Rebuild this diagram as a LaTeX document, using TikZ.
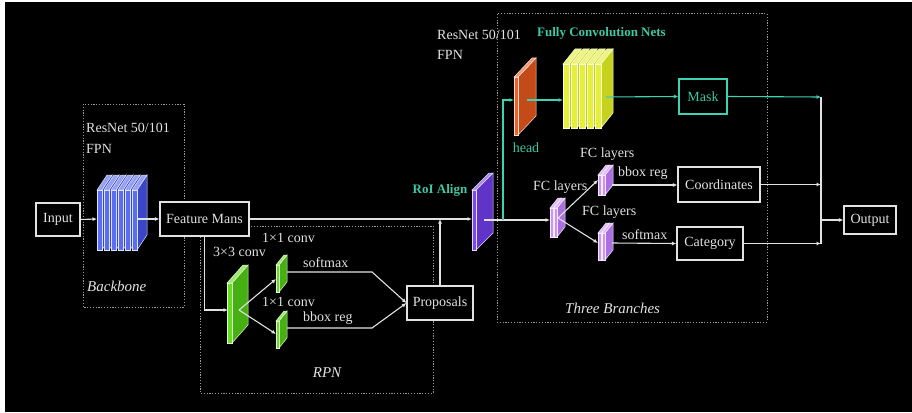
\documentclass[tikz,border=0pt]{standalone}
\usepackage{fontspec}
\setmainfont{Liberation Serif}
\usetikzlibrary{arrows.meta,calc}
\definecolor{lgray}{HTML}{E2E2E2}
\definecolor{dgray}{HTML}{9A9A9A}
\definecolor{tealc}{HTML}{3ED2B4}
\definecolor{tealt}{HTML}{3CC8A4}
\definecolor{blueF}{HTML}{5A6EF0}\definecolor{blueS}{HTML}{3A46C8}
\definecolor{yelF}{HTML}{E4F03C}\definecolor{yelS}{HTML}{C6D21E}
\definecolor{oraF}{HTML}{EA622A}\definecolor{oraS}{HTML}{C44A18}
\definecolor{grnF}{HTML}{66DD22}\definecolor{grnS}{HTML}{46B012}
\definecolor{purF}{HTML}{7A4AE8}\definecolor{purS}{HTML}{6034C8}
\definecolor{vioF}{HTML}{CC94F6}\definecolor{vioS}{HTML}{AC70E2}
% slab: x, ybottom, w, h, dx, dy, front colour, side colour
\newcommand{\myslab}[8]{%
  \filldraw[fill=#8, draw=white!80!#7, line width=0.5pt] (#1+#3,#2) -- ++(#5,-#6) -- ++(0,-#4) -- ++(-#5,#6) -- cycle;
  \filldraw[fill=#7!65!white, draw=white!80!#7, line width=0.5pt] (#1,#2-#4) -- ++(#3,0) -- ++(#5,-#6) -- ++(-#3,0) -- cycle;
  \filldraw[fill=#7, draw=white!80!#7, line width=0.5pt] (#1,#2) rectangle ++(#3,-#4);
}
\tikzset{
  dotbox/.style={draw=dgray, line width=1pt, dash pattern=on 1.2pt off 1.6pt},
  txt/.style={text=lgray, font=\fontsize{14}{16}\selectfont, inner sep=0pt},
  ital/.style={text=lgray, font=\fontsize{15}{17}\selectfont\itshape, inner sep=0pt},
  tealtxt/.style={text=tealt, font=\fontsize{13}{15}\selectfont\bfseries, inner sep=0pt},
  box/.style={draw=lgray, line width=1.1pt, fill=black, text=lgray, font=\fontsize{14}{16}\selectfont, inner sep=0pt},
  tealbox/.style={draw=tealc, line width=1.1pt, fill=black, text=tealt, font=\fontsize{14}{16}\selectfont, inner sep=0pt},
  line/.style={draw=lgray, line width=1.1pt},
  arr/.style={line, -{Latex[length=4.5pt,width=4pt]}},
  tarr/.style={draw=tealc, line width=1.1pt, -{Latex[length=4.5pt,width=4pt]}},
}
\begin{document}
\begin{tikzpicture}[x=1pt,y=-1pt]
\useasboundingbox (0,0) rectangle (912,412);
\fill[white] (0,0) rectangle (912,412);
\fill[black] (5,2) rectangle (912,412);
% dotted groups
\draw[dotbox] (83,104) rectangle (184,307);
\draw[dotbox] (200,226) rectangle (433,393);
\draw[dotbox] (497,14) rectangle (767,322);
% boxes
\node[box, minimum width=44, minimum height=33] (input) at (58,219.5) {Input};
\node[box, minimum width=89, minimum height=34] (fm) at (204.5,219) {Feature Mans};
\node[box, minimum width=66, minimum height=34] (prop) at (440,303) {Proposals};
\node[tealbox, minimum width=48, minimum height=35] (mask) at (703,96.5) {Mask};
\node[box, minimum width=82, minimum height=35] (coord) at (719,184.5) {Coordinates};
\node[box, minimum width=66, minimum height=33] (cat) at (710,243.5) {Category};
\node[box, minimum width=52, minimum height=28] (out) at (870,220) {Output};
% slab stacks
\foreach \i in {0,...,5} {\myslab{97+\i*7}{250}{5}{60}{10}{15}{blueF}{blueS}}
\foreach \i in {0,...,4} {\myslab{563+\i*8}{128}{6}{64}{12}{15}{yelF}{yelS}}
\myslab{514}{135}{4}{58}{18}{19}{oraF}{oraS}
\myslab{472}{250}{4}{60}{17}{17}{purF}{purS}
\myslab{227}{343}{5}{60}{16}{18}{grnF}{grnS}
\myslab{276}{292}{3}{27}{8}{10}{grnF}{grnS}
\myslab{276}{348}{3}{27}{8}{10}{grnF}{grnS}
\foreach \i in {0,1} {\myslab{550+\i*4}{237}{3}{29}{8}{10}{vioF}{vioS}}
\foreach \i in {0,1} {\myslab{598+\i*4}{195}{3}{20}{8}{10}{vioF}{vioS}}
\foreach \i in {0,1} {\myslab{598+\i*4}{260}{3}{27}{8}{10}{vioF}{vioS}}
% named connection points on the slabs
\coordinate (bluein) at (97,219);
\coordinate (blueout) at (138,219);
\coordinate (gin) at (228,310);
\coordinate (gv) at (239,310);
\coordinate (stin) at (276,279);
\coordinate (sbin) at (276,334);
\coordinate (stout) at (287,272);
\coordinate (sbout) at (287,328);
\coordinate (stbend) at (372,272);
\coordinate (sbbend) at (372,328);
\coordinate (roiin) at (472,219);
\coordinate (roiout) at (484,220);
\coordinate (tj) at (503,220);
\coordinate (headin) at (514,100);
\coordinate (headout) at (527,100);
\coordinate (yin) at (563,100);
\coordinate (yout) at (606,97);
\coordinate (fcin) at (550,220);
\coordinate (fcv) at (558,218);
\coordinate (fctin) at (598,180);
\coordinate (fcbin) at (598,243);
\coordinate (fctout) at (612,185);
\coordinate (fcbout) at (612,243);
\coordinate (mj) at (821,97);
% connectors
\draw[arr] (input.east) -- (bluein);
\draw[arr] (blueout) -- (fm.west);
\draw[arr] (fm.east) -- (roiin);
\draw[arr] (fm.south) |- (gin);
\draw[arr] (gv) -- (stin);
\draw[arr] (gv) -- (sbin);
\draw[arr] (stout) -- (stbend) -- (prop.west);
\draw[arr] (sbout) -- (sbbend) -- (prop.west);
\draw[arr] (prop.north) -- (prop.north |- fm.east);
\draw[arr] (roiout) -- (fcin);
\draw[tarr] (tj) |- (headin);
\draw[tarr] (headout) -- (yin);
\draw[tarr] (yout) -- (mask.west);
\draw[tarr] (mask.east) -- (mj);
\draw[arr] (fcv) -- (fctin);
\draw[arr] (fcv) -- (fcbin);
\draw[arr] (fctout) -- (fctout -| coord.west);
\draw[arr] (fcbout) -- (cat.west);
\draw[arr] (coord.east) -- (coord.east -| mj);
\draw[arr] (cat.east) -- (cat.east -| mj);
\draw[line] (mj) -- (mj |- cat.east);
\draw[arr] (mj |- out.west) -- (out.west);
% labels
\node[txt, anchor=west] (l1) at (86,128) {ResNet 50/101};
\node[txt, anchor=west] (l2) at (86,149) {FPN};
\node[ital, anchor=west] (l3) at (87,286) {Backbone};
\node[txt, anchor=west] (l4) at (213,252) {3×3 conv};
\node[txt, anchor=west] (l5) at (262,238) {1×1 conv};
\node[txt, anchor=west] (l6) at (262,302) {1×1 conv};
\node[txt, anchor=west] (l7) at (303,263) {softmax};
\node[txt, anchor=west] (l8) at (303,318) {bbox reg};
\node[ital] (l9) at (327,373) {RPN};
\node[tealtxt] (l10) at (440,190) {RoI Align};
\node[txt, anchor=west] (l11) at (437,35) {ResNet 50/101};
\node[txt, anchor=west] (l12) at (437,55) {FPN};
\node[tealtxt, anchor=west] (l13) at (537,33) {Fully Convolution Nets};
\node[tealtxt, font=\fontsize{14}{16}\selectfont] (l14) at (526,148) {head};
\node[txt, anchor=west] (l15) at (533,187) {FC layers};
\node[txt, anchor=west] (l16) at (580,154) {FC layers};
\node[txt, anchor=west] (l17) at (582,212) {FC layers};
\node[txt, anchor=west] (l18) at (618,173) {bbox reg};
\node[txt, anchor=west] (l19) at (622,235) {softmax};
\node[ital, anchor=west] (l20) at (565,308) {Three Branches};
\end{tikzpicture}
\end{document}
